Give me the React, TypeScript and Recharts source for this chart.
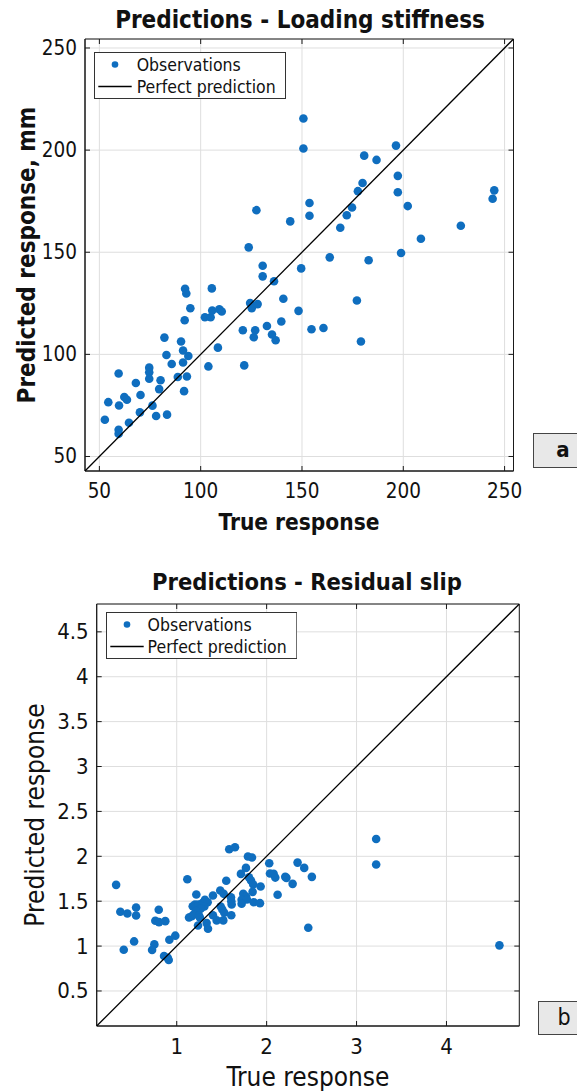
import React from "react";
import {
  ScatterChart,
  Scatter,
  XAxis,
  YAxis,
  CartesianGrid,
  ReferenceArea,
  Legend,
} from "recharts";

// ---------- Data: Loading stiffness ----------
const stiffTrue = [
  150.7, 150.7, 127.5, 144.2, 123.7, 196.4, 180.7, 186.8, 197.3, 179.9,
  177.6, 197.3, 153.7, 153.7, 174.7, 172.1, 202.2, 244.9, 244.1, 168.9,
  228.4, 208.7, 198.9, 163.7, 182.9, 149.6, 140.8, 177.1, 148.3, 139.8,
  154.7, 160.6, 179.1, 130.6, 130.6, 136.2, 124.4, 125.2, 128.1, 132.7,
  135.2, 137.0, 120.8, 126.9, 126.2, 121.5, 105.5, 102.1, 104.9, 105.7,
  109.2, 110.4, 108.5, 103.8, 92.3, 92.9, 94.9, 92.1, 82.1, 90.3,
  91.3, 83.1, 93.9, 85.7, 91.3, 74.6, 74.6, 74.6, 80.2, 68.0,
  88.7, 93.2, 59.5, 79.5, 70.3, 91.8, 62.3, 63.6, 54.4, 59.7,
  76.2, 70.0, 78.0, 83.4, 64.6, 52.7, 59.5, 59.5,
];
const stiffPred = [
  215.5, 200.8, 170.6, 165.1, 152.4, 202.2, 197.3, 195.2, 187.4, 183.9,
  179.9, 179.4, 174.1, 167.9, 171.9, 168.1, 172.6, 180.3, 176.2, 162.0,
  163.0, 156.6, 149.6, 147.5, 146.1, 142.1, 127.2, 126.4, 121.3, 116.1,
  112.3, 112.9, 106.3, 143.4, 138.2, 135.8, 125.1, 122.6, 124.6, 113.9,
  109.7, 106.9, 111.8, 111.8, 108.4, 94.6, 132.3, 118.2, 118.2, 121.5,
  122.1, 121.0, 103.3, 94.1, 132.1, 129.8, 122.6, 116.7, 108.2, 106.3,
  101.9, 99.7, 99.2, 95.3, 96.0, 93.5, 91.2, 88.1, 87.3, 86.0,
  88.9, 89.2, 90.6, 83.0, 80.1, 82.0, 79.1, 77.8, 76.6, 75.0,
  74.9, 71.6, 69.8, 70.5, 66.5, 68.0, 63.1, 61.1,
];
const stiffLimits = [42.9, 254.4];
const stiffTicks = [50, 100, 150, 200, 250];

// ---------- Data: Residual slip ----------
const slipTrue = [
  0.326, 0.373, 0.451, 0.548, 0.548, 0.8, 0.762, 0.803, 0.873, 0.526,
  0.411, 0.751, 0.726, 0.918, 0.984, 0.859, 0.9, 0.911, 1.118, 1.218,
  1.178, 1.203, 1.24, 1.284, 1.314, 1.344, 1.307, 1.267, 1.214, 1.167,
  1.137, 1.189, 1.248, 1.259, 1.237, 1.333, 1.348, 1.403, 1.403, 1.444,
  1.484, 1.522, 1.489, 1.507, 1.529, 1.518, 1.551, 1.584, 1.648, 1.603,
  1.607, 1.611, 1.607, 1.714, 1.77, 1.792, 1.837, 1.803, 1.826, 1.851,
  1.933, 1.844, 1.74, 1.77, 1.722, 1.781, 1.722, 1.856, 1.926, 2.029,
  2.037, 2.078, 2.096, 2.122, 2.207, 2.22, 2.289, 2.344, 2.418, 2.503,
  2.463, 3.218, 3.218, 4.589,
];
const slipPred = [
  1.682, 1.382, 1.363, 1.43, 1.341, 1.404, 1.282, 1.267, 1.278, 1.052,
  0.96, 1.019, 0.956, 1.071, 1.116, 0.889, 0.87, 0.845, 1.744, 1.574,
  1.444, 1.463, 1.463, 1.478, 1.516, 1.489, 1.441, 1.416, 1.389, 1.333,
  1.319, 1.352, 1.341, 1.316, 1.23, 1.256, 1.193, 1.563, 1.344, 1.286,
  1.619, 1.582, 1.441, 1.408, 1.371, 1.286, 1.727, 2.078, 2.1, 1.544,
  1.5, 1.463, 1.344, 1.804, 1.871, 1.997, 1.986, 1.767, 1.73, 1.686,
  1.663, 1.604, 1.582, 1.552, 1.516, 1.519, 1.471, 1.489, 1.478, 1.922,
  1.808, 1.804, 1.763, 1.571, 1.771, 1.76, 1.693, 1.93, 1.871, 1.771,
  1.204, 2.193, 1.908, 1.008,
];
const slipLimits = [0.11, 4.81];
const slipXTicks = [1, 2, 3, 4];
const slipYTicks = [0.5, 1, 1.5, 2, 2.5, 3, 3.5, 4, 4.5];

const legendLabels = ["Observations", "Perfect prediction"];

// ---------- Styles ----------
const FONT = '"DejaVu Sans Condensed", "DejaVu Sans", sans-serif';
const BLUE = "#0f6ebf";
const AXIS = "#1a1a1a";
const GRID = "#dedede";
const TICK_LEN = 5;

const toPoints = (xs: number[], ys: number[]) =>
  xs.map((x, i) => ({ x, y: ys[i] }));

const makeXTick = (plotH: number, fontSize: number, dy: number) => (props: any) => {
  const { x, y, payload } = props;
  return (
    <g>
      <line x1={x} x2={x} y1={y} y2={y - TICK_LEN} stroke={AXIS} strokeWidth={1} />
      <line x1={x} x2={x} y1={y - plotH} y2={y - plotH + TICK_LEN} stroke={AXIS} strokeWidth={1} />
      <text
        x={x}
        y={y + dy}
        textAnchor="middle"
        dominantBaseline="central"
        fontFamily={FONT}
        fontSize={fontSize}
        fill="#111"
      >
        {payload.value}
      </text>
    </g>
  );
};

const makeYTick = (plotW: number, fontSize: number, dx: number) => (props: any) => {
  const { x, y, payload } = props;
  return (
    <g>
      <line x1={x} x2={x + TICK_LEN} y1={y} y2={y} stroke={AXIS} strokeWidth={1} />
      <line x1={x + plotW} x2={x + plotW - TICK_LEN} y1={y} y2={y} stroke={AXIS} strokeWidth={1} />
      <text
        x={x - dx}
        y={y}
        textAnchor="end"
        dominantBaseline="central"
        fontFamily={FONT}
        fontSize={fontSize}
        fill="#111"
      >
        {payload.value}
      </text>
    </g>
  );
};

const dotShape = (props: any) => (
  <circle cx={props.cx} cy={props.cy} r={4.3} fill={BLUE} />
);
const noShape = () => <g />;

const LegendBox = ({ w, h, textX }: { w: number; h: number; textX: number }) => (
  <svg width={w} height={h} style={{ display: "block" }}>
    <rect x={0.5} y={0.5} width={w - 1} height={h - 1} fill="#fff" stroke="#333" strokeWidth={1} />
    <circle cx={21} cy={12.5} r={3.3} fill={BLUE} />
    <line x1={4.3} x2={37.7} y1={34.5} y2={34.5} stroke="#000" strokeWidth={1.3} />
    <text x={textX} y={12.5} dominantBaseline="central" fontFamily={FONT} fontSize={17.5} fill="#111">
      {legendLabels[0]}
    </text>
    <text x={textX} y={34.5} dominantBaseline="central" fontFamily={FONT} fontSize={17.5} fill="#111">
      {legendLabels[1]}
    </text>
  </svg>
);

type PanelProps = {
  top: number;
  height: number;
  plotLeft: number;
  plotTop: number;
  plotRight: number;
  plotBottom: number;
  data: { x: number; y: number }[];
  limits: number[];
  xTicks: number[];
  yTicks: number[];
  tickFont: number;
  xTickDy: number;
  yTickDx: number;
  legendLeft: number;
  legendTop: number;
  legendW: number;
  legendTextX: number;
};

const Panel = (p: PanelProps) => {
  const W = 577;
  const yAxisW = 60;
  const xAxisH = 40;
  const plotW = p.plotRight - p.plotLeft;
  const plotH = p.plotBottom - p.plotTop;
  const diag = [
    { x: p.limits[0], y: p.limits[0] },
    { x: p.limits[1], y: p.limits[1] },
  ];
  return (
    <div style={{ position: "absolute", left: 0, top: p.top, width: W, height: p.height }}>
      <ScatterChart
        width={W}
        height={p.height}
        margin={{
          top: p.plotTop,
          left: p.plotLeft - yAxisW,
          right: W - p.plotRight,
          bottom: p.height - p.plotBottom - xAxisH,
        }}
      >
        <CartesianGrid stroke={GRID} strokeWidth={1} />
        <XAxis
          type="number"
          dataKey="x"
          domain={p.limits}
          ticks={p.xTicks}
          allowDataOverflow
          height={xAxisH}
          tickSize={0}
          tickMargin={0}
          tickLine={false}
          axisLine={{ stroke: AXIS }}
          tick={makeXTick(plotH, p.tickFont, p.xTickDy)}
          interval={0}
        />
        <YAxis
          type="number"
          dataKey="y"
          domain={p.limits}
          ticks={p.yTicks}
          allowDataOverflow
          width={yAxisW}
          tickSize={0}
          tickMargin={0}
          tickLine={false}
          axisLine={{ stroke: AXIS }}
          tick={makeYTick(plotW, p.tickFont, p.yTickDx)}
          interval={0}
        />
        <ReferenceArea
          x1={p.limits[0]}
          x2={p.limits[1]}
          y1={p.limits[0]}
          y2={p.limits[1]}
          fill="none"
          fillOpacity={0}
          stroke={AXIS}
          strokeWidth={1}
          strokeOpacity={1}
        />
        <Scatter
          name={legendLabels[0]}
          data={p.data}
          shape={dotShape}
          isAnimationActive={false}
        />
        <Scatter
          name={legendLabels[1]}
          data={diag}
          shape={noShape}
          line={{ stroke: "#000", strokeWidth: 1.3 }}
          isAnimationActive={false}
        />
        <Legend
          layout="vertical"
          align="center"
          verticalAlign="middle"
          wrapperStyle={{
            left: p.legendLeft,
            top: p.legendTop,
            width: p.legendW,
            height: 47,
          }}
          content={() => <LegendBox w={p.legendW} h={47} textX={p.legendTextX} />}
        />
      </ScatterChart>
    </div>
  );
};

const textAbs = (
  cx: number,
  cy: number,
  size: number,
  bold: boolean,
  rotate = false
): React.CSSProperties => ({
  position: "absolute",
  left: cx,
  top: cy,
  transform: `translate(-50%, -50%)${rotate ? " rotate(-90deg)" : ""}`,
  whiteSpace: "nowrap",
  fontFamily: FONT,
  fontSize: size,
  fontWeight: bold ? 700 : 400,
  color: "#111",
  lineHeight: 1,
});

export default function App() {
  const stiffData = toPoints(stiffTrue, stiffPred);
  const slipData = toPoints(slipTrue, slipPred);
  return (
    <div
      style={{
        position: "absolute",
        left: 0,
        top: 0,
        width: 577,
        height: 1091,
        overflow: "hidden",
        background: "#fff",
      }}
    >
      <Panel
        top={0}
        height={545}
        plotLeft={85}
        plotTop={39}
        plotRight={513.5}
        plotBottom={471}
        data={stiffData}
        limits={stiffLimits}
        xTicks={stiffTicks}
        yTicks={stiffTicks}
        tickFont={20.5}
        xTickDy={20}
        yTickDx={8}
        legendLeft={94}
        legendTop={52}
        legendW={192}
        legendTextX={42.7}
      />
      <Panel
        top={560}
        height={531}
        plotLeft={96.7}
        plotTop={44}
        plotRight={519.3}
        plotBottom={466}
        data={slipData}
        limits={slipLimits}
        xTicks={slipXTicks}
        yTicks={slipYTicks}
        tickFont={22}
        xTickDy={20}
        yTickDx={8}
        legendLeft={105.7}
        legendTop={52}
        legendW={191.3}
        legendTextX={41.6}
      />

      {/* Panel a texts */}
      <div style={textAbs(300, 20, 24, true)}>Predictions - Loading stiffness</div>
      <div style={textAbs(299, 522, 22.5, true)}>True response</div>
      <div style={textAbs(27, 255, 24, true, true)}>Predicted response, mm</div>
      <div
        style={{
          position: "absolute",
          left: 533,
          top: 433,
          width: 50,
          height: 35,
          boxSizing: "border-box",
          border: "1px solid #444",
          background: "#e8e8e8",
        }}
      />
      <div style={textAbs(563, 450, 22, true)}>a</div>

      {/* Panel b texts */}
      <div style={textAbs(307, 583, 23.5, true)}>Predictions - Residual slip</div>
      <div style={textAbs(308, 1077, 26, false)}>True response</div>
      <div style={textAbs(35, 815, 26, false, true)}>Predicted response</div>
      <div
        style={{
          position: "absolute",
          left: 538,
          top: 1001,
          width: 50,
          height: 34,
          boxSizing: "border-box",
          border: "1px solid #444",
          background: "#e8e8e8",
        }}
      />
      <div style={textAbs(564, 1017, 23, false)}>b</div>
    </div>
  );
}
